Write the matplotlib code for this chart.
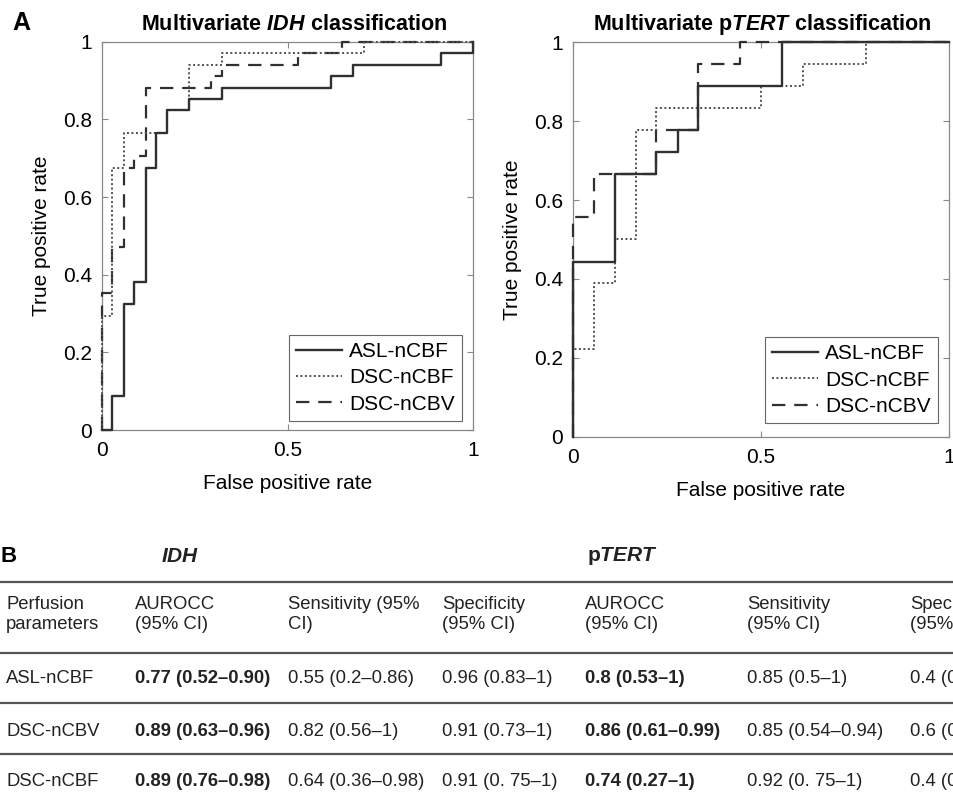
import matplotlib
matplotlib.use('Agg')
import matplotlib.pyplot as plt
from matplotlib.lines import Line2D

plt.rcParams['font.family'] = ['Liberation Sans', 'DejaVu Sans']
plt.rcParams['mathtext.fontset'] = 'custom'
plt.rcParams['mathtext.rm'] = 'Liberation Sans:bold'
plt.rcParams['mathtext.it'] = 'Liberation Sans:italic:bold'
plt.rcParams['mathtext.bf'] = 'Liberation Sans:bold'

# ---------------- Data ----------------
series_names = ['ASL-nCBF', 'DSC-nCBF', 'DSC-nCBV']

# IDH ROC (step points, horizontal-then-vertical)
idh_asl_fpr = [0, 0.029, 0.059, 0.088, 0.118, 0.147, 0.176, 0.235, 0.324, 0.618, 0.676, 0.912, 1]
idh_asl_tpr = [0, 0.088, 0.324, 0.382, 0.676, 0.765, 0.824, 0.853, 0.882, 0.912, 0.941, 0.971, 1]
idh_dscbf_fpr = [0, 0, 0.029, 0.059, 0.176, 0.235, 0.324, 0.706, 1]
idh_dscbf_tpr = [0, 0.294, 0.676, 0.765, 0.824, 0.941, 0.971, 1, 1]
idh_dscbv_fpr = [0, 0, 0.029, 0.059, 0.088, 0.118, 0.294, 0.324, 0.529, 0.647, 1]
idh_dscbv_tpr = [0, 0.353, 0.471, 0.676, 0.706, 0.882, 0.912, 0.941, 0.971, 1, 1]

# pTERT ROC
tert_asl_fpr = [0, 0, 0.111, 0.222, 0.278, 0.333, 0.556, 1]
tert_asl_tpr = [0, 0.444, 0.667, 0.722, 0.778, 0.889, 1, 1]
tert_dscbf_fpr = [0, 0, 0.056, 0.111, 0.167, 0.222, 0.5, 0.611, 0.778, 1]
tert_dscbf_tpr = [0, 0.222, 0.389, 0.5, 0.778, 0.833, 0.889, 0.944, 1, 1]
tert_dscbv_fpr = [0, 0, 0.056, 0.222, 0.333, 0.444, 1]
tert_dscbv_tpr = [0, 0.556, 0.667, 0.778, 0.944, 1, 1]

yticks = [0, 0.2, 0.4, 0.6, 0.8, 1]
ytick_labels = ['0', '0.2', '0.4', '0.6', '0.8', '1']
xticks = [0, 0.5, 1]
xtick_labels = ['0', '0.5', '1']

# Table
table_header = ['Perfusion\nparameters', 'AUROCC\n(95% CI)', 'Sensitivity (95%\nCI)',
                'Specificity\n(95% CI)', 'AUROCC\n(95% CI)', 'Sensitivity\n(95% CI)',
                'Specificity\n(95% CI)']
params = ['ASL-nCBF', 'DSC-nCBV', 'DSC-nCBF']
idh_auc = ['0.77 (0.52\u20130.90)', '0.89 (0.63\u20130.96)', '0.89 (0.76\u20130.98)']
idh_sens = ['0.55 (0.2\u20130.86)', '0.82 (0.56\u20131)', '0.64 (0.36\u20130.98)']
idh_spec = ['0.96 (0.83\u20131)', '0.91 (0.73\u20131)', '0.91 (0. 75\u20131)']
tert_auc = ['0.8 (0.53\u20131)', '0.86 (0.61\u20130.99)', '0.74 (0.27\u20131)']
tert_sens = ['0.85 (0.5\u20131)', '0.85 (0.54\u20130.94)', '0.92 (0. 75\u20131)']
tert_spec = ['0.4 (0', '0.6 (0', '0.4 (0']

# ---------------- Figure ----------------
W, H = 954, 793
fig = plt.figure(figsize=(W / 100, H / 100), dpi=100)


def fx(x):
    return x / W


def fy(y):
    return 1 - y / H


line_color = '#303030'
styles = [dict(ls='-', lw=1.7, zorder=5, color='#303030'),
          dict(ls=(0, (1, 1.3)), lw=1.4, zorder=4, color='#505050'),
          dict(ls=(0, (6, 4)), lw=1.6, zorder=3, color='#303030')]


def make_axes(rect, curves, title, title_x, legend_anchor):
    x0, y0, x1, y1 = rect
    ax = fig.add_axes([fx(x0), fy(y1), (x1 - x0) / W, (y1 - y0) / H])
    for (fpr, tpr), name, st in zip(curves, series_names, styles):
        ax.plot(fpr, tpr, drawstyle='steps-post', label=name, clip_on=False, **st)
    ax.set_xlim(0, 1)
    ax.set_ylim(0, 1)
    ax.set_xticks(xticks)
    ax.set_xticklabels(xtick_labels)
    ax.set_yticks(yticks)
    ax.set_yticklabels(ytick_labels)
    ax.tick_params(direction='in', length=4, width=0.8, color='#888888',
                   labelsize=15, labelcolor='black', top=True, right=True)
    ax.tick_params(axis='y', pad=7)
    ax.tick_params(axis='x', pad=8)
    for sp in ax.spines.values():
        sp.set_color('#888888')
        sp.set_linewidth(0.9)
    ax.set_xlabel('False positive rate', fontsize=15)
    ax.set_ylabel('True positive rate', fontsize=15)
    h = y1 - y0
    w = x1 - x0
    ax.xaxis.set_label_coords(0.5, -(474 - 430) / h)
    ax.yaxis.set_label_coords(-(101.7 - 51) / w, 0.5)
    ax.text((title_x - x0) / w, (y1 - 25) / h, title, transform=ax.transAxes,
            ha='center', va='center', fontsize=15.5)
    leg = ax.legend(loc='lower right', bbox_to_anchor=legend_anchor, borderaxespad=0,
                    fontsize=15, frameon=True, fancybox=False, edgecolor='#666666',
                    framealpha=1, handlelength=2.2, handletextpad=0.35,
                    labelspacing=0.35, borderpad=0.35)
    leg.get_frame().set_linewidth(0.8)
    return ax


make_axes((101.7, 41.7, 473.3, 430),
          [(idh_asl_fpr, idh_asl_tpr), (idh_dscbf_fpr, idh_dscbf_tpr),
           (idh_dscbv_fpr, idh_dscbv_tpr)],
          r'$\mathrm{Multivariate}\ \mathit{IDH}\ \mathrm{classification}$', 294,
          (0.970, 0.023))
make_axes((573, 42.3, 949, 436.7),
          [(tert_asl_fpr, tert_asl_tpr), (tert_dscbf_fpr, tert_dscbf_tpr),
           (tert_dscbv_fpr, tert_dscbv_tpr)],
          r'$\mathrm{Multivariate}\ \mathrm{p}\mathit{TERT}\ \mathrm{classification}$', 762.7,
          (0.9716, 0.034))

# Panel labels
fig.text(fx(12), fy(23), 'A', fontsize=18, fontweight='bold', ha='left', va='center')
fig.text(fx(0), fy(556), 'B', fontsize=16, fontweight='bold', ha='left', va='center')

# ---------------- Table ----------------
tcolor = '#222222'
fig.text(fx(161), fy(556), r'$\mathit{IDH}$', fontsize=15, ha='left', va='center', color=tcolor)
fig.text(fx(586.7), fy(556), r'$\mathrm{p}\mathit{TERT}$', fontsize=15, ha='left', va='center',
         color=tcolor)

for yl in [582, 652.7, 702.7, 754]:
    fig.add_artist(Line2D([0, 1], [fy(yl), fy(yl)], color='#555555', lw=1.6,
                          transform=fig.transFigure))

col_x = [6, 135, 288, 442, 585, 747, 910]
for cx, txt in zip(col_x, table_header):
    fig.text(fx(cx), fy(614.5), txt, fontsize=13.3, ha='left', va='center',
             linespacing=1.3, color=tcolor)

row_y = [676.7, 729, 780]
columns = [params, idh_auc, idh_sens, idh_spec, tert_auc, tert_sens, tert_spec]
bold_cols = {1, 4}
for ci, (cx, col) in enumerate(zip(col_x, columns)):
    for ry, txt in zip(row_y, col):
        fig.text(fx(cx), fy(ry), txt, fontsize=13.3, ha='left', va='center_baseline',
                 color=tcolor, fontweight='bold' if ci in bold_cols else 'normal')

fig.savefig('out.png', dpi=100)
